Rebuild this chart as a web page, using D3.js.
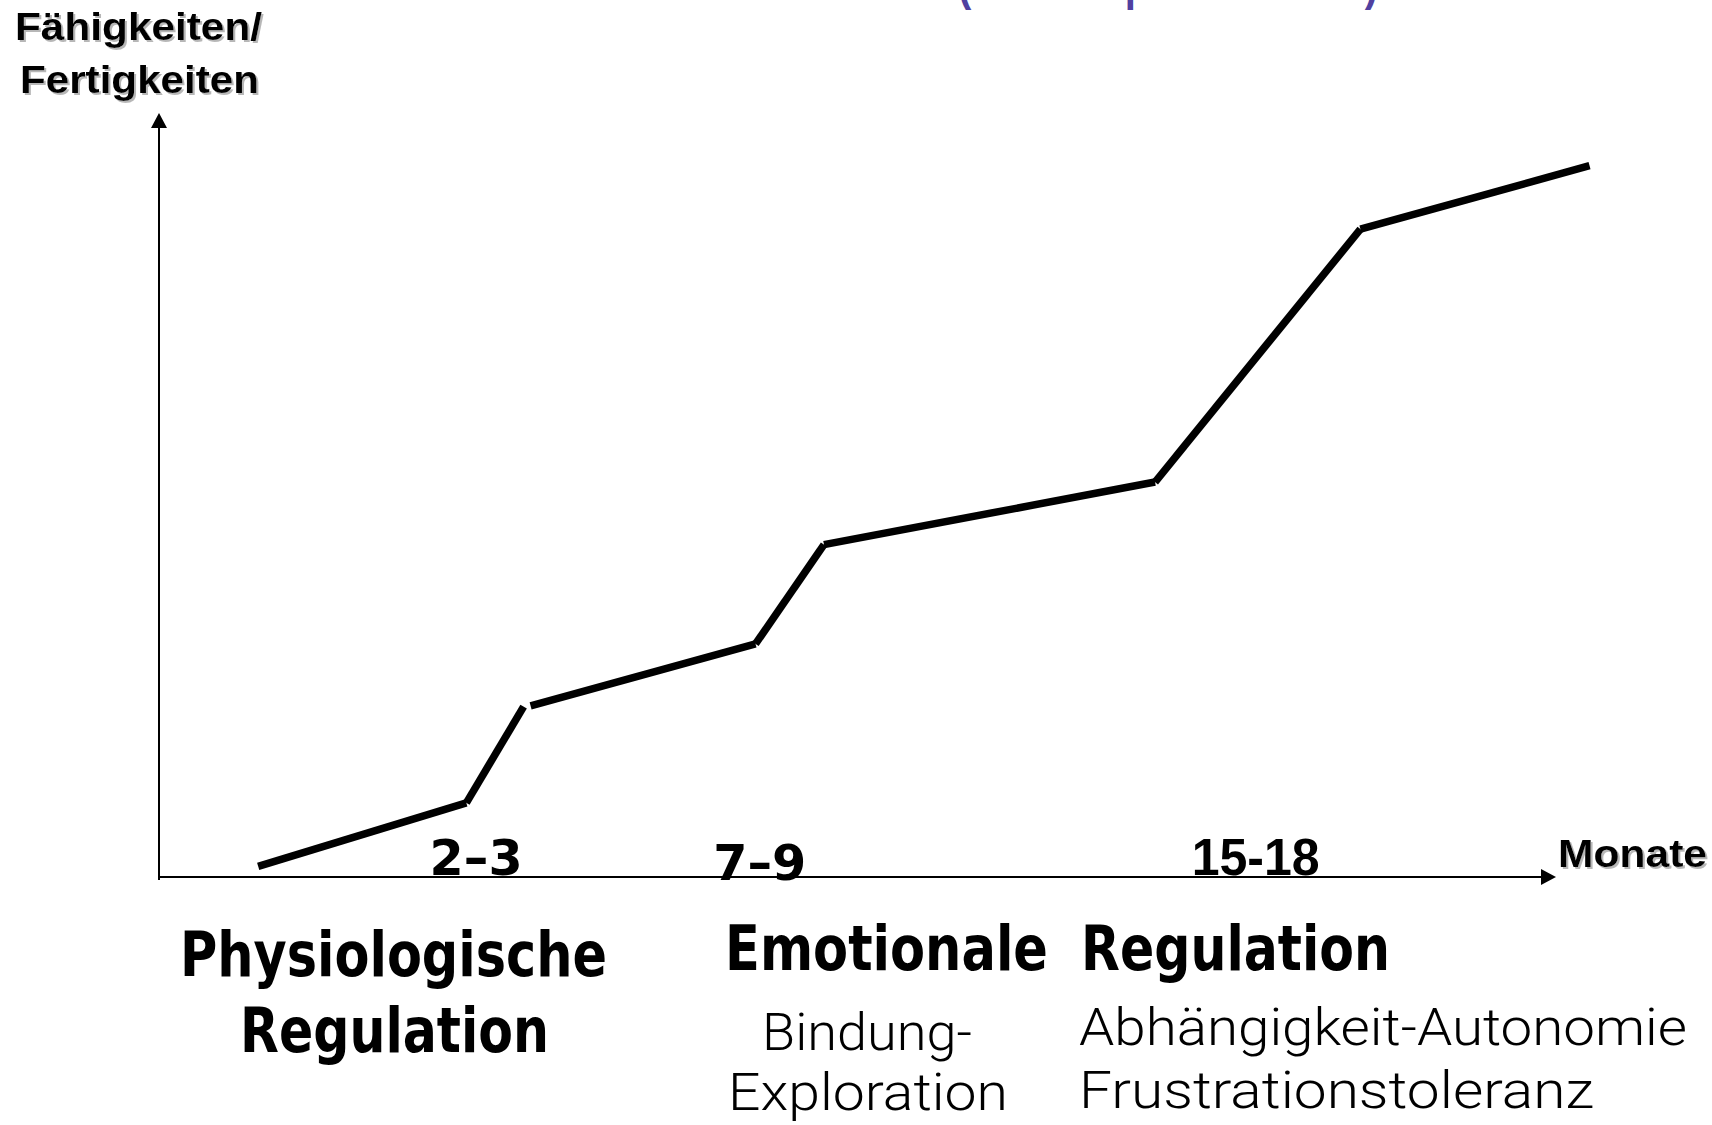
<!DOCTYPE html>
<html>
<head>
<meta charset="utf-8">
<script src="https://cdn.jsdelivr.net/npm/d3@7"></script>
<style>
  body { margin: 0; background: #fff; }
</style>
</head>
<body>
<div id="chart"></div>
<script>
// line pieces, in chart units (x along "Monate", y up "Fähigkeiten")
var segX0 = [7.1, 22.0, 26.6, 42.7, 47.6, 71.3, 86.0];
var segY0 = [1.4, 9.7, 22.4, 30.5, 43.5, 51.7, 84.8];
var segX1 = [22.0, 26.1, 42.7, 47.6, 71.3, 86.0, 102.4];
var segY1 = [9.7, 22.3, 30.5, 43.5, 51.7, 84.8, 93.1];

var tickLabels = ["2\u20133", "7\u20139", "15-18"];
var tickX = [22.7, 43.0, 78.5];

var yTitle = ["Fähigkeiten/", "Fertigkeiten"];
var xTitle = "Monate";
var topNote = "(nach Papoušek 2004)";

var phaseTitles = ["Physiologische", "Regulation", "Emotionale", "Regulation"];
var phaseNotes = ["Bindung-", "Exploration", "Abhängigkeit-Autonomie", "Frustrationstoleranz"];

var width = 1712, height = 1125;

var svg = d3.select("#chart")
  .append("svg")
  .attr("width", width)
  .attr("height", height)
  .style("font-family", "'Liberation Sans', Arial, sans-serif");

svg.append("rect").attr("width", width).attr("height", height).attr("fill", "#fff");

var defs = svg.append("defs");
defs.append("filter").attr("id", "shadow")
  .attr("x", "-5%").attr("y", "-10%").attr("width", "115%").attr("height", "130%")
  .append("feDropShadow")
    .attr("dx", 2).attr("dy", 2).attr("stdDeviation", 0.7)
    .attr("flood-color", "#999").attr("flood-opacity", 0.7);

var x = d3.scaleLinear().domain([0, 100]).range([159, 1556]);
var y = d3.scaleLinear().domain([0, 100]).range([877, 113]);

// axes with arrow heads
svg.append("line")
  .attr("x1", x(0)).attr("y1", y(0) + 3)
  .attr("x2", x(0)).attr("y2", y(100) + 10)
  .attr("stroke", "#000").attr("stroke-width", 2);
svg.append("path")
  .attr("d", "M" + x(0) + "," + y(100) + "l-8,15l16,0z")
  .attr("fill", "#000");

svg.append("line")
  .attr("x1", x(0)).attr("y1", y(0))
  .attr("x2", x(100) - 10).attr("y2", y(0))
  .attr("stroke", "#000").attr("stroke-width", 2);
svg.append("path")
  .attr("d", "M" + x(100) + "," + y(0) + "l-15,-8l0,16z")
  .attr("fill", "#000");

// the development line, drawn piece by piece
svg.selectAll("line.seg")
  .data(d3.range(segX0.length))
  .enter()
  .append("line")
    .attr("class", "seg")
    .attr("x1", function(i) { return x(segX0[i]); })
    .attr("y1", function(i) { return y(segY0[i]); })
    .attr("x2", function(i) { return x(segX1[i]); })
    .attr("y2", function(i) { return y(segY1[i]); })
    .attr("stroke", "#000")
    .attr("stroke-width", 7.5)
    .attr("stroke-linecap", "butt");

// month labels
var tickFont = ["'DejaVu Sans', sans-serif", "'DejaVu Sans', sans-serif", "'Liberation Sans', Arial, sans-serif"];
var tickBase = [875, 880, 875];
var tickLen = [93, 93, 128];
var tickSize = [50, 50, 52];
svg.selectAll("text.tick")
  .data(tickLabels)
  .enter()
  .append("text")
    .attr("class", "tick")
    .attr("x", function(d, i) { return x(tickX[i]) - tickLen[i] / 2; })
    .attr("y", function(d, i) { return tickBase[i]; })
    .attr("textLength", function(d, i) { return tickLen[i]; })
    .attr("lengthAdjust", "spacingAndGlyphs")
    .style("font-family", function(d, i) { return tickFont[i]; })
    .style("font-size", function(d, i) { return tickSize[i] + "px"; })
    .style("font-weight", "bold")
    .text(function(d) { return d; });

// axis titles
svg.selectAll("text.ytitle")
  .data(yTitle)
  .enter()
  .append("text")
    .attr("class", "ytitle")
    .attr("x", function(d, i) { return i == 0 ? 15 : 20; })
    .attr("y", function(d, i) { return i == 0 ? 40 : 93; })
    .attr("textLength", function(d, i) { return i == 0 ? 247 : 239; })
    .attr("lengthAdjust", "spacingAndGlyphs")
    .attr("filter", "url(#shadow)")
    .style("font-size", "39px")
    .style("font-weight", "bold")
    .text(function(d) { return d; });

svg.append("text")
  .attr("x", 1558).attr("y", 867)
  .attr("textLength", 149)
  .attr("lengthAdjust", "spacingAndGlyphs")
  .attr("filter", "url(#shadow)")
  .style("font-size", "39px")
  .style("font-weight", "bold")
  .text(xTitle);

// cut-off subtitle at the very top (only its lower edge is on the page)
svg.append("text")
  .attr("x", 958).attr("y", 0)
  .attr("textLength", 420)
  .attr("lengthAdjust", "spacingAndGlyphs")
  .attr("fill", "#5040a0")
  .style("font-size", "46px")
  .style("font-weight", "bold")
  .text(topNote);

// phase titles and notes
var titleX = [180, 240, 725, 1081];
var titleY = [976, 1052, 970, 970];
var titleLen = [427, 309, 323, 309];
svg.selectAll("text.phase")
  .data(phaseTitles)
  .enter()
  .append("text")
    .attr("class", "phase")
    .attr("x", function(d, i) { return titleX[i]; })
    .attr("y", function(d, i) { return titleY[i]; })
    .attr("textLength", function(d, i) { return titleLen[i]; })
    .attr("lengthAdjust", "spacingAndGlyphs")
    .style("font-family", "'DejaVu Sans Condensed', 'Liberation Sans Narrow', 'DejaVu Sans', sans-serif")
    .style("font-size", "62px")
    .style("font-weight", "bold")
    .text(function(d) { return d; });

var noteX = [762, 728, 1079, 1079];
var noteY = [1050, 1110, 1045, 1108];
var noteLen = [210, 280, 608, 515];
svg.selectAll("text.note")
  .data(phaseNotes)
  .enter()
  .append("text")
    .attr("class", "note")
    .attr("x", function(d, i) { return noteX[i]; })
    .attr("y", function(d, i) { return noteY[i]; })
    .attr("textLength", function(d, i) { return noteLen[i]; })
    .attr("lengthAdjust", "spacingAndGlyphs")
    .style("font-family", "Roboto, 'DejaVu Sans Condensed', sans-serif")
    .style("font-size", "52px")
    .style("font-weight", "300")
    .text(function(d) { return d; });
</script>
</body>
</html>
